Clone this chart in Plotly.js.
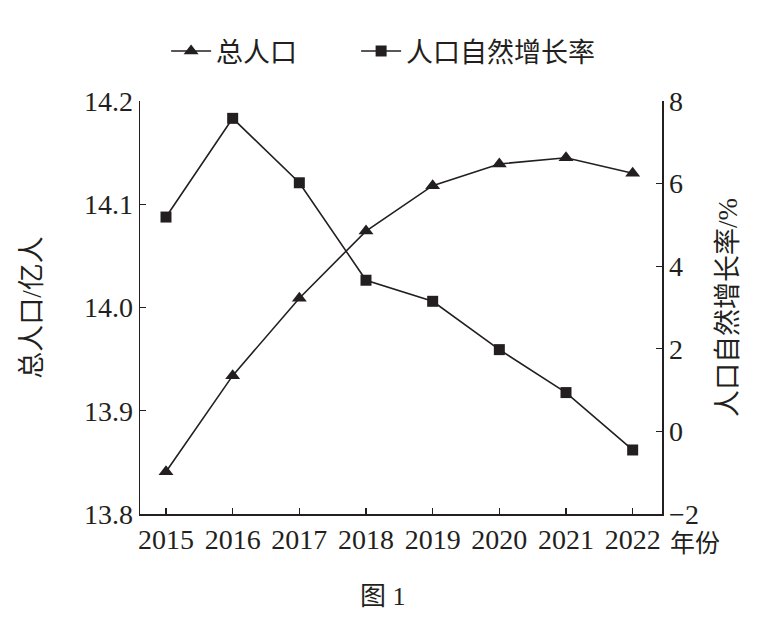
<!DOCTYPE html>
<html>
<head>
<meta charset="utf-8">
<script src="https://cdn.plot.ly/plotly-3.0.1.min.js"></script>
<style>
html,body{margin:0;padding:0;background:#fff;}
#chart{width:772px;height:618px;}
</style>
</head>
<body>
<div id="chart"></div>
<script>
const years = [2015, 2016, 2017, 2018, 2019, 2020, 2021, 2022];
const totalPopulation = [13.841, 13.934, 14.009, 14.074, 14.118, 14.139, 14.145, 14.130];
const naturalGrowthRate = [5.19, 7.58, 6.02, 3.66, 3.15, 1.98, 0.94, -0.45];
const seriesNames = ['总人口', '人口自然增长率'];
const leftTitle = '总人口/亿人';
const rightTitle = '人口自然增长率/%';
const xUnit = '年份';
const figCaption = '图 1';

const FONT = 'Liberation Serif, Noto Sans CJK SC, serif';
const INK = '#231f20';

const traces = [
  {
    x: years, y: totalPopulation, name: seriesNames[0], type: 'scatter', mode: 'lines+markers',
    line: {color: INK, width: 1.6},
    marker: {symbol: 'triangle-up', size: 13, color: INK},
    yaxis: 'y', legend: 'legend'
  },
  {
    x: years, y: naturalGrowthRate, name: seriesNames[1], type: 'scatter', mode: 'lines+markers',
    line: {color: INK, width: 1.6},
    marker: {symbol: 'square', size: 11, color: INK},
    yaxis: 'y2', legend: 'legend2'
  }
];

const legendBase = {
  orientation: 'h', y: 1.12, xanchor: 'left', yanchor: 'middle',
  font: {family: FONT, size: 27, color: INK},
  itemwidth: 40, bgcolor: 'rgba(0,0,0,0)'
};

const layout = {
  width: 772, height: 618,
  paper_bgcolor: '#fff', plot_bgcolor: '#fff',
  margin: {l: 140, r: 110, t: 101, b: 104, pad: 0},
  font: {family: FONT, color: INK, size: 26},
  showlegend: true,
  legend: Object.assign({}, legendBase, {x: 0.05}),
  legend2: Object.assign({}, legendBase, {x: 0.414}),
  xaxis: {
    range: [2014.61, 2022.44], tickvals: years, ticktext: years.map(String),
    showgrid: false, zeroline: false, showline: true, linecolor: INK, linewidth: 1.5,
    ticks: 'inside', ticklen: 6, tickcolor: INK, tickwidth: 1.3,
    tickfont: {family: FONT, size: 28, color: INK}, fixedrange: true
  },
  yaxis: {
    range: [13.8, 14.2], dtick: 0.1, tick0: 13.8, tickformat: '.1f',
    showgrid: false, zeroline: false, showline: true, linecolor: INK, linewidth: 1.5,
    ticks: 'inside', ticklen: 6, tickcolor: INK, tickwidth: 1.3,
    tickfont: {family: FONT, size: 28, color: INK},
    title: {text: leftTitle, font: {family: FONT, size: 27, color: INK}, standoff: 34}
  },
  yaxis2: {
    range: [-2, 8], dtick: 2, tick0: -2, overlaying: 'y', side: 'right',
    showgrid: false, zeroline: false, showline: true, linecolor: INK, linewidth: 1.5,
    ticks: 'inside', ticklen: 6, tickcolor: INK, tickwidth: 1.3,
    tickfont: {family: FONT, size: 28, color: INK},
    title: {text: rightTitle, font: {family: FONT, size: 27, color: INK}, standoff: 20}
  },
  annotations: [
    {text: xUnit, xref: 'paper', yref: 'paper', x: 1.0, y: 0, xanchor: 'left', yanchor: 'top',
     xshift: 6, yshift: -14, showarrow: false, font: {family: FONT, size: 25, color: INK}},
    {text: figCaption, xref: 'paper', yref: 'paper', x: 0.465, y: 0, xanchor: 'center', yanchor: 'middle',
     yshift: -82, showarrow: false, font: {family: FONT, size: 26, color: INK}}
  ]
};

Plotly.newPlot('chart', traces, layout, {displayModeBar: false, staticPlot: true});
</script>
</body>
</html>
